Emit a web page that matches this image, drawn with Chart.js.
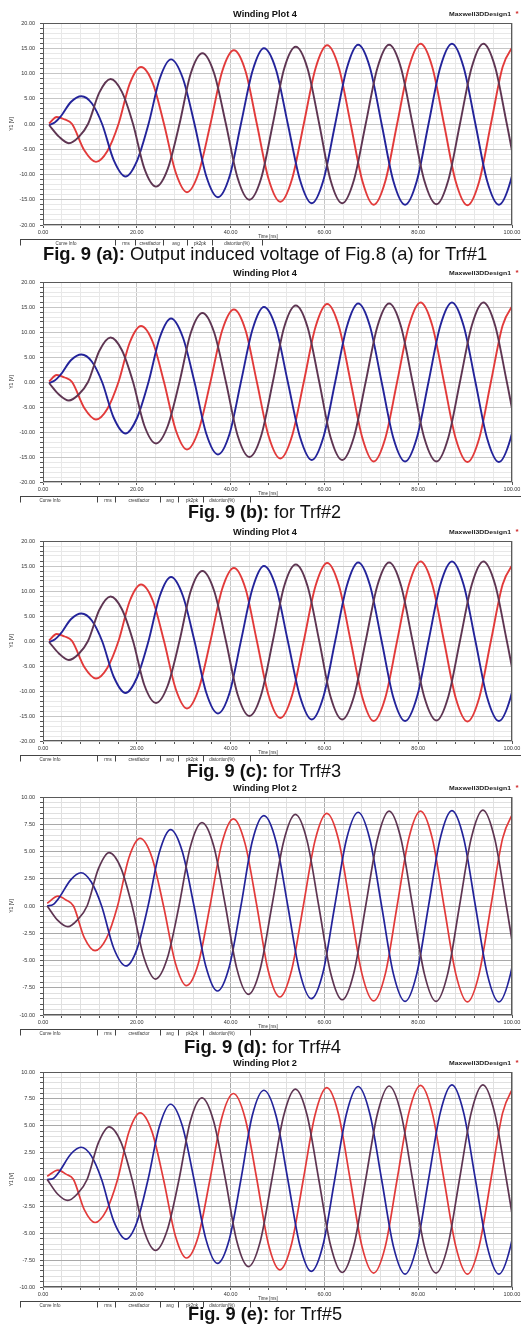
<!DOCTYPE html>
<html><head><meta charset="utf-8">
<script src="https://cdn.jsdelivr.net/npm/chart.js@4.4.1/dist/chart.umd.min.js"></script>
<style>
html,body{margin:0;padding:0;background:#fff;}
body{width:521px;height:1330px;position:relative;overflow:hidden;font-family:"Liberation Sans",Arial,sans-serif;}
canvas{position:absolute;left:0;}
.cap{position:absolute;white-space:nowrap;font-family:"Liberation Sans",Arial,sans-serif;font-size:18px;line-height:18px;color:#111;transform-origin:0 50%;}
.cap b{font-weight:bold;}
</style></head><body>
<script>
// ---- time points (ms), panels a-c ----
const T1_blue   = [1.3, 2.5, 3.7, 6.0, 8.2, 10.4, 12.6, 15.1, 17.6, 20.0, 22.5, 24.9, 27.3, 29.8, 32.3, 34.8, 37.3, 39.8, 42.2, 44.7, 47.1, 49.7, 52.2, 54.8, 57.3, 59.8, 62.3, 64.8, 67.2, 69.7, 72.2, 74.7, 77.2, 79.7, 82.2, 84.7, 87.2, 89.7, 92.2, 94.7, 97.2, 99.7, 102.2];
const T1_purple = [1.3, 3.4, 5.5, 7.6, 9.6, 12.0, 14.4, 16.8, 19.2, 21.6, 24.1, 26.6, 29.1, 31.5, 34.0, 36.5, 39.0, 41.5, 44.0, 46.5, 49.0, 51.4, 53.9, 56.4, 58.9, 61.3, 63.8, 66.3, 68.8, 71.3, 73.8, 76.3, 78.8, 81.3, 83.9, 86.4, 88.9, 91.4, 93.9, 96.4, 98.9, 101.4, 103.9];
const T1_red    = [1.3, 2.9, 4.6, 6.2, 8.8, 11.3, 13.7, 16.1, 18.5, 20.9, 23.4, 25.8, 28.3, 30.7, 33.2, 35.7, 38.2, 40.7, 43.2, 45.6, 48.1, 50.6, 53.1, 55.6, 58.1, 60.6, 63.1, 65.6, 68.1, 70.5, 73.0, 75.5, 78.0, 80.5, 83.0, 85.5, 88.0, 90.5, 93.0, 95.5, 98.0, 100.5];
// ---- time points (ms), panels d-e ----
const T2_blue   = [0.9, 2.2, 3.5, 5.9, 8.1, 10.3, 12.5, 15.1, 17.7, 20.0, 22.4, 24.8, 27.2, 29.7, 32.2, 34.7, 37.2, 39.7, 42.2, 44.6, 47.1, 49.7, 52.2, 54.7, 57.2, 59.7, 62.2, 64.7, 67.2, 69.7, 72.2, 74.7, 77.2, 79.7, 82.2, 84.7, 87.2, 89.7, 92.2, 94.7, 97.2, 99.7, 102.2];
const T2_purple = [0.9, 3.1, 5.3, 7.3, 9.4, 11.8, 14.1, 16.6, 19.0, 21.5, 24.0, 26.5, 29.0, 31.4, 33.9, 36.4, 38.9, 41.3, 43.8, 46.3, 48.8, 51.3, 53.8, 56.3, 58.8, 61.3, 63.8, 66.3, 68.8, 71.3, 73.8, 76.3, 78.8, 81.3, 83.8, 86.3, 88.8, 91.3, 93.8, 96.3, 98.8, 101.3, 103.8];
const T2_red    = [0.9, 3.2, 4.9, 6.5, 8.8, 11.1, 13.5, 15.9, 18.3, 20.7, 23.2, 25.7, 28.2, 30.6, 33.1, 35.6, 38.1, 40.6, 43.1, 45.6, 48.0, 50.5, 53.0, 55.5, 58.0, 60.5, 63.0, 65.5, 68.0, 70.5, 73.0, 75.5, 78.0, 80.5, 83.0, 85.5, 88.0, 90.5, 93.0, 95.5, 98.0, 100.5];

// ---- induced voltages Y1 (V) ----
const A_blue   = [-0.2, 0.3, 1.4, 4.4, 5.5, 4.1, 0, -7.2, -10.4, -7.4, 0, 9.0, 12.8, 9.1, 0, -10.3, -14.5, -10.3, 0, 10.6, 15.0, 10.7, 0, -11.1, -15.7, -11.1, 0, 11.1, 15.7, 11.2, 0, -11.3, -16.0, -11.3, 0, 11.2, 15.9, 11.2, 0, -11.3, -16.0, -11.3, 0];
const A_purple = [-0.2, -2.5, -3.8, -2.6, 0, 6.2, 8.9, 6.4, 0, -8.8, -12.4, -8.9, 0, 10.0, 14.0, 10.0, 0, -10.7, -15.0, -10.8, 0, 10.9, 15.3, 11.0, 0, -11.1, -15.7, -11.1, 0, 11.1, 15.7, 11.2, 0, -11.2, -15.9, -11.2, 0, 11.2, 15.9, 11.3, 0, -11.3, -16.0];
const A_red    = [0.1, 1.4, 0.9, 0, -5.2, -7.5, -5.4, 0, 8.0, 11.3, 8.1, 0, -9.6, -13.5, -9.6, 0, 10.4, 14.6, 10.4, 0, -10.9, -15.4, -10.9, 0, 11.0, 15.6, 11.1, 0, -11.3, -16.0, -11.3, 0, 11.2, 15.9, 11.3, 0, -11.4, -16.1, -11.4, 0, 11.3, 15.9];

const B_blue   = [-0.2, 0.3, 1.4, 4.4, 5.5, 4.1, 0, -7.2, -10.3, -7.3, 0, 8.9, 12.7, 9.0, 0, -10.3, -14.5, -10.3, 0, 10.6, 15.0, 10.7, 0, -11.0, -15.6, -11.0, 0, 11.1, 15.7, 11.2, 0, -11.2, -15.9, -11.2, 0, 11.2, 15.9, 11.2, 0, -11.3, -16.0, -11.3, 0];
const B_purple = [-0.2, -2.5, -3.7, -2.5, 0, 6.2, 8.9, 6.4, 0, -8.7, -12.3, -8.8, 0, 9.8, 13.8, 9.9, 0, -10.7, -15.0, -10.8, 0, 10.9, 15.3, 11.0, 0, -11.0, -15.6, -11.0, 0, 11.1, 15.7, 11.2, 0, -11.2, -15.9, -11.2, 0, 11.2, 15.9, 11.3, 0, -11.3, -16.0];
const B_red    = [0.1, 1.4, 0.9, 0, -5.2, -7.5, -5.4, 0, 7.9, 11.2, 8.0, 0, -9.6, -13.5, -9.6, 0, 10.3, 14.5, 10.3, 0, -10.8, -15.3, -10.8, 0, 11.0, 15.6, 11.1, 0, -11.2, -15.9, -11.2, 0, 11.2, 15.9, 11.3, 0, -11.3, -16.0, -11.3, 0, 11.3, 15.9];

const C_blue   = [-0.2, 0.3, 1.4, 4.4, 5.5, 4.1, 0, -7.2, -10.4, -7.4, 0, 9.0, 12.8, 9.1, 0, -10.3, -14.5, -10.3, 0, 10.6, 15.0, 10.7, 0, -11.1, -15.7, -11.1, 0, 11.1, 15.7, 11.2, 0, -11.3, -16.0, -11.3, 0, 11.2, 15.9, 11.2, 0, -11.3, -16.0, -11.3, 0];
const C_purple = [-0.2, -2.5, -3.8, -2.6, 0, 6.2, 8.9, 6.4, 0, -8.8, -12.4, -8.9, 0, 10.0, 14.0, 10.0, 0, -10.7, -15.0, -10.8, 0, 10.9, 15.3, 11.0, 0, -11.1, -15.7, -11.1, 0, 11.1, 15.7, 11.2, 0, -11.2, -15.9, -11.2, 0, 11.2, 15.9, 11.3, 0, -11.3, -16.0];
const C_red    = [0.1, 1.4, 0.9, 0, -5.2, -7.5, -5.4, 0, 8.0, 11.3, 8.1, 0, -9.6, -13.5, -9.6, 0, 10.4, 14.6, 10.4, 0, -10.9, -15.4, -10.9, 0, 11.0, 15.6, 11.1, 0, -11.3, -16.0, -11.3, 0, 11.2, 15.9, 11.3, 0, -11.4, -16.1, -11.4, 0, 11.3, 15.9];

const D_blue   = [0.0, 0.15, 0.8, 2.4, 3.05, 2.2, 0, -3.9, -5.5, -4.0, 0, 4.9, 7.0, 5.0, 0, -5.5, -7.8, -5.6, 0, 5.9, 8.3, 5.9, 0, -6.0, -8.5, -6.1, 0, 6.1, 8.6, 6.1, 0, -6.2, -8.75, -6.2, 0, 6.2, 8.75, 6.2, 0, -6.2, -8.8, -6.2, 0];
const D_purple = [0.0, -1.3, -1.9, -1.3, 0, 3.4, 4.9, 3.5, 0, -4.7, -6.7, -4.8, 0, 5.4, 7.65, 5.5, 0, -5.7, -8.1, -5.8, 0, 5.9, 8.4, 6.0, 0, -6.1, -8.6, -6.1, 0, 6.1, 8.7, 6.2, 0, -6.2, -8.75, -6.2, 0, 6.2, 8.8, 6.2, 0, -6.2, -8.8];
const D_red    = [0.25, 0.9, 0.55, 0, -2.9, -4.1, -3.0, 0, 4.4, 6.2, 4.5, 0, -5.2, -7.3, -5.3, 0, 5.7, 8.0, 5.7, 0, -5.9, -8.35, -5.9, 0, 6.0, 8.5, 6.1, 0, -6.2, -8.7, -6.2, 0, 6.2, 8.7, 6.2, 0, -6.2, -8.8, -6.2, 0, 6.2, 8.8];

const E_blue   = [0.0, 0.1, 0.75, 2.35, 3.0, 2.2, 0, -3.9, -5.55, -4.0, 0, 4.9, 7.0, 5.0, 0, -5.5, -7.8, -5.6, 0, 5.9, 8.3, 5.9, 0, -6.0, -8.55, -6.1, 0, 6.1, 8.65, 6.1, 0, -6.2, -8.8, -6.2, 0, 6.2, 8.8, 6.2, 0, -6.2, -8.8, -6.2, 0];
const E_purple = [0.0, -1.35, -1.95, -1.35, 0, 3.4, 4.9, 3.5, 0, -4.7, -6.6, -4.7, 0, 5.4, 7.6, 5.4, 0, -5.7, -8.1, -5.8, 0, 5.9, 8.4, 6.0, 0, -6.1, -8.65, -6.1, 0, 6.1, 8.7, 6.2, 0, -6.2, -8.7, -6.2, 0, 6.2, 8.8, 6.2, 0, -6.2, -8.8];
const E_red    = [0.3, 0.87, 0.5, 0, -2.8, -4.0, -2.9, 0, 4.4, 6.2, 4.5, 0, -5.2, -7.3, -5.3, 0, 5.7, 8.0, 5.7, 0, -5.9, -8.4, -6.0, 0, 6.0, 8.55, 6.1, 0, -6.2, -8.7, -6.2, 0, 6.2, 8.75, 6.2, 0, -6.2, -8.8, -6.2, 0, 6.2, 8.8];

// ---- axis / text ----
const xTicksMajor = [0, 20, 40, 60, 80, 100];
const titles = ['Winding Plot 4', 'Winding Plot 4', 'Winding Plot 4', 'Winding Plot 2', 'Winding Plot 2'];
const captionsBold = ['Fig. 9 (a):', 'Fig. 9 (b):', 'Fig. 9 (c):', 'Fig. 9 (d):', 'Fig. 9 (e):'];
const captionsText = ['Output induced voltage of Fig.8 (a) for Trf#1', 'for Trf#2', 'for Trf#3', 'for Trf#4', 'for Trf#5'];
const infoLabels = ['Curve Info', 'rms', 'crestfactor', 'avg', 'pk2pk', 'distortion(%)'];

const FONT = '"Liberation Sans", Arial, sans-serif';
const COL_BLUE = '#23239a', COL_PURPLE = '#5e3552', COL_RED = '#e23a3a';

const infoA = {seps:[20,115,135,163,187,212,262], lx:[66,126,150,176,200,237]};
const infoB = {seps:[20,97,115,160,178,203,250], lx:[50,108,139,170,192,222]};

const panels = [
  {top:23, bottom:225, ymin:-20, ymax:20, ystep:1, ymajor:5, tb:T1_blue, tp:T1_purple, tr:T1_red, b:A_blue, p:A_purple, r:A_red, capL:43, capR:487, capY:254, info:infoA, grid:1, lw:1.9},
  {top:282, bottom:482, ymin:-20, ymax:20, ystep:1, ymajor:5, tb:T1_blue, tp:T1_purple, tr:T1_red, b:B_blue, p:B_purple, r:B_red, capL:188, capR:341, capY:512, info:infoB, grid:1, lw:1.9},
  {top:541, bottom:741, ymin:-20, ymax:20, ystep:1, ymajor:5, tb:T1_blue, tp:T1_purple, tr:T1_red, b:C_blue, p:C_purple, r:C_red, capL:187, capR:341, capY:771, info:infoB, grid:1, lw:1.9},
  {top:797, bottom:1015, ymin:-10, ymax:10, ystep:0.5, ymajor:2.5, tb:T2_blue, tp:T2_purple, tr:T2_red, b:D_blue, p:D_purple, r:D_red, capL:184, capR:341, capY:1047, info:infoB, grid:2, lw:1.7},
  {top:1072, bottom:1287, ymin:-10, ymax:10, ystep:0.5, ymajor:2.5, tb:T2_blue, tp:T2_purple, tr:T2_red, b:E_blue, p:E_purple, r:E_red, capL:188, capR:342, capY:1314, info:infoB, grid:2, lw:1.7}
];

function isMajor(v, m){ const q = v/m; return Math.abs(q - Math.round(q)) < 1e-6; }
function fitText(ctx, txt, cx, cy, w, font, color){
  ctx.save(); ctx.font = font; ctx.fillStyle = color; ctx.textAlign = 'center'; ctx.textBaseline = 'middle';
  const mw = ctx.measureText(txt).width; const s = w / mw;
  ctx.translate(cx, cy); ctx.scale(s, 1); ctx.fillText(txt, 0, 0); ctx.restore();
}
const deco = {
  id: 'deco',
  afterDraw(chart, args, o){
    const p = o.panel, i = o.idx; const ctx = chart.ctx, a = chart.chartArea;
    ctx.save();
    ctx.strokeStyle = '#5a5a5a'; ctx.lineWidth = 1;
    ctx.strokeRect(Math.round(a.left)+0.5, Math.round(a.top)+0.5, Math.round(a.right-a.left)-1, Math.round(a.bottom-a.top)-1);
    fitText(ctx, titles[i], 265, a.top-8, 64, 'bold 9px ' + FONT, '#111');
    fitText(ctx, 'Maxwell3DDesign1', 480, a.top-9, 62, 'bold 6px ' + FONT, '#222');
    ctx.fillStyle = '#d02828'; ctx.font = 'bold 8px ' + FONT; ctx.textAlign = 'center'; ctx.textBaseline = 'middle';
    ctx.fillText('*', 517, a.top-9);
    ctx.save(); ctx.translate(12, chart.scales.y.getPixelForValue(0)); ctx.rotate(-Math.PI/2);
    ctx.font = '5px ' + FONT; ctx.fillStyle = '#333'; ctx.fillText('Y1 [V]', 0, 0); ctx.restore();
    const ly = Math.round(a.bottom) + 14.5;
    ctx.strokeStyle = '#444'; ctx.lineWidth = 1;
    ctx.beginPath(); ctx.moveTo(20, ly); ctx.lineTo(540, ly); ctx.stroke();
    p.info.seps.forEach(x => { ctx.beginPath(); ctx.moveTo(x+0.5, ly); ctx.lineTo(x+0.5, ly+6); ctx.stroke(); });
    ctx.font = '4.5px ' + FONT; ctx.fillStyle = '#333';
    infoLabels.forEach((t, k) => ctx.fillText(t, p.info.lx[k], ly+4));
    ctx.fillText('Time [ms]', 268, ly-3);
    ctx.restore();
  }
};

function series(ts, vs){ return ts.map((t, k) => ({x: t, y: vs[k]})); }

panels.forEach((p, i) => {
  const H = p.bottom - p.top + 20 + 36;
  const c = document.createElement('canvas');
  c.width = 540; c.height = H; c.style.width = '540px'; c.style.height = H + 'px';
  c.style.top = (p.top - 20) + 'px';
  document.body.appendChild(c);
  const gMaj = p.grid === 1 ? '#c6c6c6' : '#a9a9a9';
  const gMin = p.grid === 1 ? '#e8e8e8' : '#e0e0e0';
  const ds = (data, col) => ({data, borderColor: col, borderWidth: p.lw, pointRadius: 0, cubicInterpolationMode: 'monotone', fill: false, clip: 0});
  new Chart(c, {
    type: 'line',
    data: { datasets: [ ds(series(p.tp, p.p), COL_PURPLE), ds(series(p.tb, p.b), COL_BLUE), ds(series(p.tr, p.r), COL_RED) ] },
    options: {
      responsive: false, animation: false, devicePixelRatio: 1,
      layout: { padding: {top: 20, right: 28, bottom: 0, left: 0} },
      plugins: { legend: {display: false}, tooltip: {enabled: false}, deco: {panel: p, idx: i} },
      scales: {
        x: {
          type: 'linear', min: 0, max: 100,
          afterFit(s){ s.height = 36; },
          border: {display: false},
          grid: { color: ctx => isMajor(ctx.tick.value, 20) ? gMaj : gMin, tickLength: 3, tickColor: '#555', lineWidth: 1 },
          ticks: { stepSize: 4, autoSkip: false, maxRotation: 0, padding: 1, color: '#333', font: {size: 5.5, family: FONT},
                   callback: v => xTicksMajor.includes(v) ? v.toFixed(2) : '' }
        },
        y: {
          min: p.ymin, max: p.ymax,
          afterFit(s){ s.width = 43; },
          border: {display: false},
          grid: { color: ctx => isMajor(ctx.tick.value, p.ymajor) ? gMaj : gMin, tickLength: 3, tickColor: '#555', lineWidth: 1 },
          ticks: { stepSize: p.ystep, autoSkip: false, maxTicksLimit: 1000, padding: 5, color: '#333', font: {size: 5.5, family: FONT},
                   callback: v => isMajor(v, p.ymajor) ? v.toFixed(2) : '' }
        }
      }
    },
    plugins: [deco]
  });
  const d = document.createElement('div'); d.className = 'cap';
  const b = document.createElement('b'); b.textContent = captionsBold[i];
  d.appendChild(b); d.appendChild(document.createTextNode(' ' + captionsText[i]));
  document.body.appendChild(d);
  const w = d.offsetWidth;
  d.style.left = p.capL + 'px'; d.style.top = (p.capY - 9) + 'px';
  d.style.transform = 'scaleX(' + ((p.capR - p.capL) / w) + ')';
});
</script>
</body></html>
